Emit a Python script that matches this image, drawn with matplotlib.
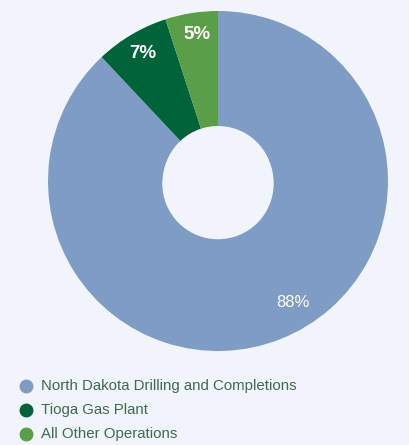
import matplotlib.pyplot as plt
from matplotlib.lines import Line2D
import numpy as np

# share of total by operation
labels = ["North Dakota Drilling and Completions", "Tioga Gas Plant", "All Other Operations"]
shares = [88, 7, 5]
colors = ["#7f9cc4", "#00633a", "#5a9e47"]
bg = "#f1f4fb"

W, H = 409, 445
fig = plt.figure(figsize=(W / 100, H / 100), dpi=100, facecolor=bg)
ax = fig.add_axes([48 / W, 94 / H, 340 / W, 340 / H])
ax.set_facecolor(bg)

hole = 55 / 170
wedges, _ = ax.pie(shares, colors=colors, startangle=90, counterclock=False,
                   radius=1.0, wedgeprops=dict(width=1 - hole, linewidth=0))
ax.add_patch(plt.Circle((0, -0.015), hole, color=bg, zorder=3))
ax.set_xlim(-1, 1)
ax.set_ylim(-1, 1)
ax.set_aspect("equal")
ax.axis("off")

# percent labels: (angle offset from slice middle, radius)
placement = {88: (10, 0.84), 7: (0, 0.87), 5: (-1, 0.87)}
for w, s in zip(wedges, shares):
    off, r = placement[s]
    ang = np.radians((w.theta1 + w.theta2) / 2 + off)
    big = s > 50
    ax.text(r * np.cos(ang), r * np.sin(ang), f"{s}%", ha="center", va="center",
            color="white", fontsize=12 if big else 13.5,
            fontweight="normal" if big else "bold", family="Liberation Sans")

# legend rows
for i, (lab, c) in enumerate(zip(labels, colors)):
    y = 1 - (386 + 24 * i) / H
    fig.add_artist(Line2D([26 / W], [y], marker="o", linestyle="", markersize=9,
                          markerfacecolor=c, markeredgecolor=c, transform=fig.transFigure))
    fig.text(41 / W, y, lab, ha="left", va="center", color="#3f6b4f",
             fontsize=10.8, family="Liberation Sans")

fig.savefig("out.png", dpi=100, facecolor=bg)
